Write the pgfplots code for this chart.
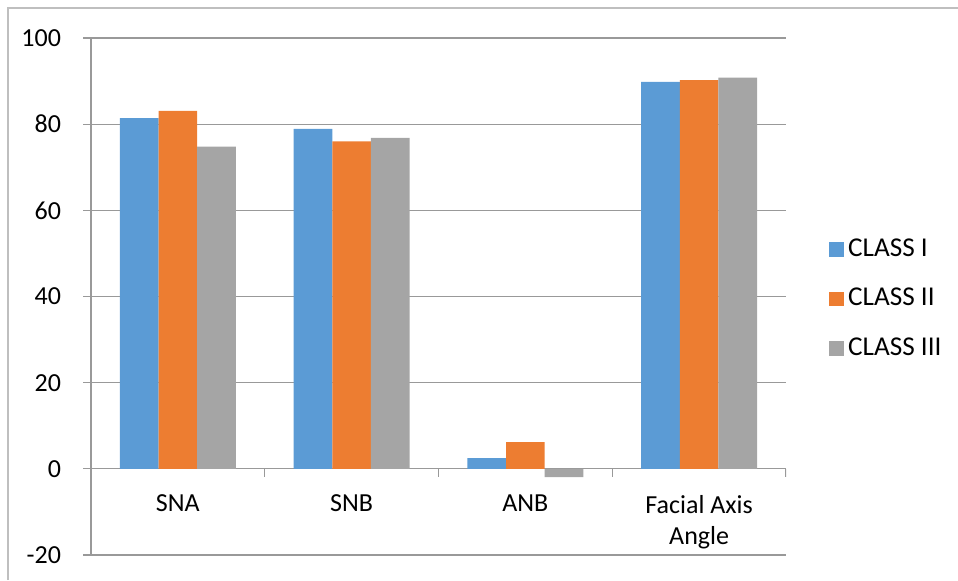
\documentclass[border=0pt]{standalone}
\usepackage{fontspec}
\setmainfont{Carlito}
\usepackage{pgfplots}
\pgfplotsset{compat=1.18}

\definecolor{classI}{HTML}{5B9BD5}
\definecolor{classII}{HTML}{ED7D31}
\definecolor{classIII}{HTML}{A5A5A5}
\definecolor{gridcol}{HTML}{999999}
\definecolor{framecol}{HTML}{BFBFBF}

\begin{document}
\fontsize{13}{15.5}\selectfont
\begin{tikzpicture}
% chart frame
\draw[framecol, line width=0.6pt] (4pt,0pt) -- (4pt,286pt) -- (479pt,286pt);
\begin{axis}[
  at={(45.5pt,12.5pt)}, anchor=south west,
  scale only axis, width=347.5pt, height=258.5pt,
  xmin=-0.5, xmax=3.5, ymin=-20, ymax=100,
  ytick={-20,0,20,40,60,80,100},
  xtick={0,1,2,3},
  xticklabels={SNA,SNB,ANB,{Facial Axis\\Angle}},
  xticklabel style={align=center, yshift=38.5pt},
  yticklabel style={xshift=-6.5pt},
  axis x line*=bottom, axis y line*=left,
  x axis line style={draw=none},
  y axis line style={gridcol, line width=0.6pt},
  major x tick style={draw=none},
  major y tick style={gridcol, line width=0.6pt},
  tick align=outside, major tick length=4pt,
  ymajorgrids, major grid style={gridcol, line width=0.6pt},
  /pgf/number format/assume math mode=true,
  ybar=0pt, bar width=19.35pt,
  legend cell align=left,
  legend style={at={(rel axis cs:1,0.5)}, anchor=west, xshift=18.5pt, yshift=-1.2pt,
    draw=none, fill=none, row sep=10pt, nodes={inner sep=2pt},
    font=\fontsize{13.6}{16}\selectfont},
  legend image code/.code={\fill[#1,draw=none] (0pt,-3.7pt) rectangle (7.4pt,3.7pt);},
]
\addplot[fill=classI, draw=none] coordinates {(0,81.4) (1,78.9) (2,2.5) (3,89.8)};
\addplot[fill=classII, draw=none] coordinates {(0,83.1) (1,76.0) (2,6.2) (3,90.2)};
\addplot[fill=classIII, draw=none] coordinates {(0,74.8) (1,76.8) (2,-1.9) (3,90.8)};
\legend{CLASS I, CLASS II, CLASS III}
% category separators below the zero line
\pgfplotsinvokeforeach{-0.5,0.5,1.5,2.5,3.5}{
  \draw[gridcol, line width=0.6pt] (axis cs:#1,0) -- ++(0pt,-4pt);
}
\end{axis}
\pgfresetboundingbox
\useasboundingbox (0pt,0pt) rectangle (479pt,290pt);
\end{tikzpicture}
\end{document}
